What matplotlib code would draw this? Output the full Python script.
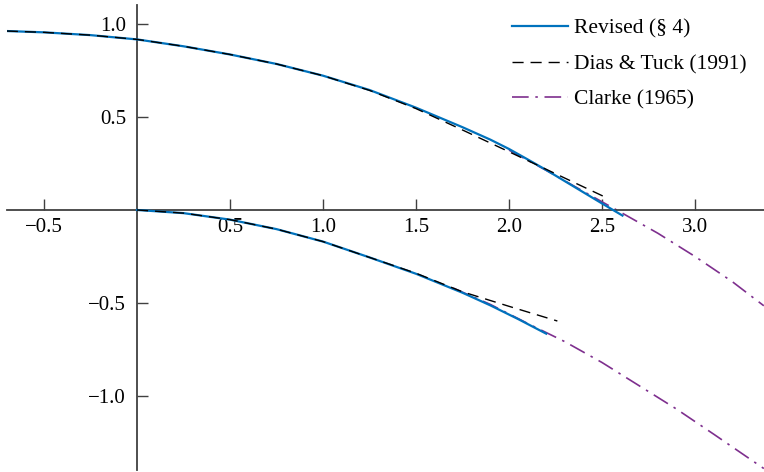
import matplotlib
matplotlib.use("Agg")
import matplotlib.pyplot as plt

# ---- data ----
# upper free surface
rev_up_x = [-0.70, -0.50, -0.25, 0.00, 0.25, 0.50, 0.75, 1.00, 1.25, 1.50, 1.75, 1.90, 2.00, 2.10, 2.20, 2.30, 2.40, 2.50, 2.61]
rev_up_y = [0.962, 0.955, 0.940, 0.917, 0.880, 0.836, 0.785, 0.722, 0.645, 0.550, 0.445, 0.378, 0.328, 0.272, 0.215, 0.155, 0.095, 0.035, -0.030]

dt_up_x = [-0.70, -0.50, -0.25, 0.00, 0.25, 0.50, 0.75, 1.00, 1.25, 1.50, 1.75, 2.00, 2.25, 2.53]
dt_up_y = [0.962, 0.955, 0.940, 0.917, 0.880, 0.836, 0.785, 0.722, 0.643, 0.545, 0.430, 0.313, 0.195, 0.063]

cl_up_x = [2.00, 2.20, 2.40, 2.60, 2.80, 3.00, 3.20, 3.37]
cl_up_y = [0.322, 0.213, 0.100, -0.012, -0.125, -0.250, -0.385, -0.515]

# lower free surface
rev_lo_x = [0.00, 0.25, 0.50, 0.75, 1.00, 1.25, 1.50, 1.75, 1.90, 2.05, 2.20]
rev_lo_y = [0.000, -0.017, -0.052, -0.103, -0.170, -0.255, -0.343, -0.445, -0.513, -0.587, -0.665]

dt_lo_x = [0.00, 0.25, 0.50, 0.75, 1.00, 1.25, 1.50, 1.75, 2.00, 2.26]
dt_lo_y = [0.000, -0.017, -0.052, -0.103, -0.170, -0.255, -0.340, -0.440, -0.518, -0.597]

cl_lo_x = [1.70, 1.90, 2.10, 2.30, 2.50, 2.70, 2.90, 3.10, 3.37]
cl_lo_y = [-0.420, -0.508, -0.610, -0.708, -0.820, -0.945, -1.070, -1.205, -1.390]

xticks = [-0.5, 0.5, 1.0, 1.5, 2.0, 2.5, 3.0]
yticks = [-1.0, -0.5, 0.5, 1.0]
labels = ["Revised (§ 4)", "Dias & Tuck (1991)", "Clarke (1965)"]

# ---- style ----
plt.rcParams['font.family'] = ['Liberation Serif', 'DejaVu Serif']
plt.rcParams['font.size'] = 15
plt.rcParams['axes.unicode_minus'] = True

BLUE = "#0072BD"
PURPLE = "#7E2F8E"
AXC = "#404040"

fig = plt.figure(figsize=(7.64, 4.72), dpi=100)
ax = fig.add_axes([7/764, 2/472, 757/764, 465/472])
ax.set_xlim(-0.699, 3.371)
ax.set_ylim(-1.398, 1.102)

ax.plot(rev_up_x, rev_up_y, color=BLUE, lw=1.6, label=labels[0], zorder=3)
ax.plot(rev_lo_x, rev_lo_y, color=BLUE, lw=1.6, zorder=3)
ax.plot(dt_up_x, dt_up_y, color="black", lw=1.0, dashes=(8, 5), label=labels[1], zorder=4)
ax.plot(dt_lo_x, dt_lo_y, color="black", lw=1.0, dashes=(8, 5), zorder=4)
ax.plot(cl_up_x, cl_up_y, color=PURPLE, lw=1.2, dashes=(10, 4, 1.5, 4), label=labels[2], zorder=2.5)
ax.plot(cl_lo_x, cl_lo_y, color=PURPLE, lw=1.2, dashes=(10, 4, 1.5, 4), zorder=2.5)

for s in ("top", "right"):
    ax.spines[s].set_visible(False)
for s in ("left", "bottom"):
    ax.spines[s].set_position(("data", 0))
    ax.spines[s].set_color(AXC)
    ax.spines[s].set_linewidth(1.3)

ax.set_xticks(xticks)
ax.set_yticks(yticks)
ax.set_xticklabels([f"{v:.1f}".replace("-", "\u2212") for v in xticks])
ax.set_yticklabels([f"{v:.1f}".replace("-", "\u2212") for v in yticks])
ax.tick_params(direction="in", length=8, width=1.0, color=AXC, labelsize=15)
ax.tick_params(axis="x", pad=6)
ax.tick_params(axis="y", pad=8)

leg = ax.legend(loc="upper right", frameon=False, fontsize=15.5, handlelength=2.6,
                handletextpad=0.25, labelspacing=0.72, borderaxespad=0.2,
                bbox_to_anchor=(0.9935, 0.9985))

fig.savefig("out.png", dpi=100)
